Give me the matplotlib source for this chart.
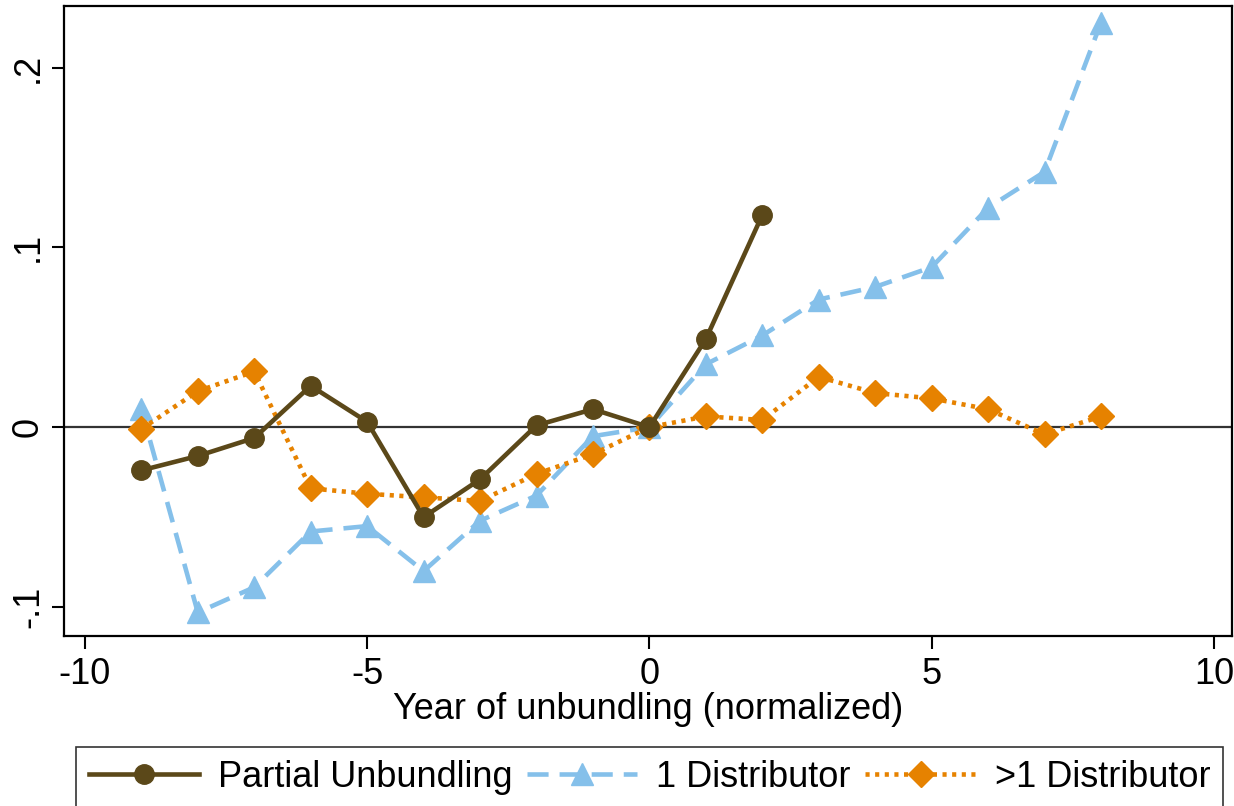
import matplotlib
matplotlib.use("Agg")
import matplotlib.pyplot as plt

plt.rcParams['font.family'] = ['Liberation Sans', 'DejaVu Sans']

# data
years_partial = [-9, -8, -7, -6, -5, -4, -3, -2, -1, 0, 1, 2]
partial = [-0.024, -0.016, -0.006, 0.023, 0.003, -0.050, -0.029, 0.001, 0.010, 0.0, 0.049, 0.118]

years_one = list(range(-9, 9))
one_dist = [0.010, -0.103, -0.089, -0.058, -0.055, -0.080, -0.052, -0.038, -0.005, 0.0,
            0.035, 0.051, 0.071, 0.078, 0.089, 0.122, 0.142, 0.225]

years_multi = list(range(-9, 9))
multi_dist = [-0.001, 0.020, 0.031, -0.034, -0.037, -0.039, -0.041, -0.026, -0.015, 0.0,
              0.006, 0.004, 0.028, 0.019, 0.016, 0.010, -0.004, 0.006]

xticks = [-10, -5, 0, 5, 10]
yticks = [-0.1, 0, 0.1, 0.2]
ytick_labels = ['-.1', '0', '.1', '.2']

W, H = 1234, 806
fig = plt.figure(figsize=(W / 100, H / 100), dpi=100)
ax = fig.add_axes([64 / W, 1 - 636 / H, (1232 - 64) / W, (636 - 6) / H])

ax.axhline(0, color='#333333', lw=1.6, zorder=1)

ax.plot(years_partial, partial, color='#5B4819', lw=3.3, marker='o', ms=14,
        label='Partial Unbundling', zorder=4)
ax.plot(years_one, one_dist, color='#85C0EA', lw=3.3, marker='^', ms=16,
        dashes=(4.6, 2.4), label='1 Distributor', zorder=3)
ax.plot(years_multi, multi_dist, color='#E68200', lw=3.3, marker='D', ms=13,
        dashes=(0.9, 1.2), label='>1 Distributor', zorder=3)

ax.set_xlim(-10.37, 10.32)
ax.set_ylim(-0.1161, 0.2342)
ax.set_xticks(xticks)
ax.set_xticklabels([str(t) for t in xticks])
ax.set_yticks(yticks)
ax.set_yticklabels(ytick_labels, rotation=90, va='center')
ax.tick_params(labelsize=26, width=1.5, length=9, direction='out')
ax.tick_params(axis='x', pad=6)
ax.tick_params(axis='y', pad=4)
ax.set_xlabel('Year of unbundling (normalized)', fontsize=26, labelpad=0)

for s in ax.spines.values():
    s.set_linewidth(1.6)
    s.set_color('black')

leg = fig.legend(loc='upper left', ncol=3,
                 bbox_to_anchor=(76 / W, 1 - 747 / H),
                 fontsize=26, frameon=True, fancybox=False, edgecolor='black',
                 handlelength=3.05, columnspacing=0.4, borderpad=0.36,
                 handletextpad=0.53, borderaxespad=0)
leg.get_frame().set_linewidth(1.2)

fig.savefig('out.png', dpi=100)
